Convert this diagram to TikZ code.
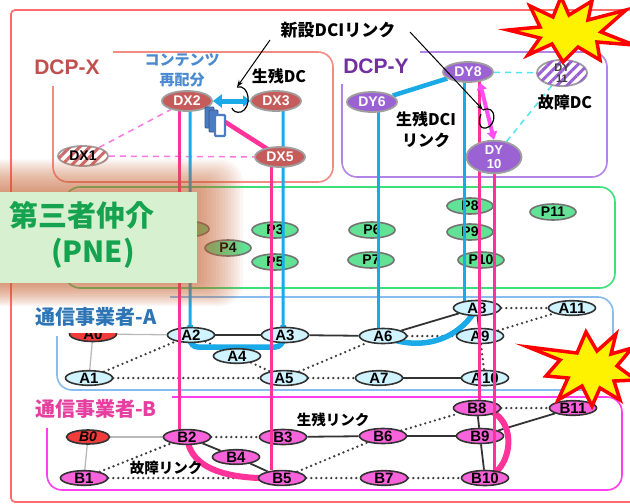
\documentclass[tikz,border=0pt]{standalone}
\usepackage{fontspec}
\usetikzlibrary{shapes.geometric,arrows.meta,patterns.meta,calc}
\newfontfamily\lsans{Liberation Sans}
\newfontfamily\jp{Noto Sans CJK JP}
\newcommand\fsz[1]{\fontsize{#1}{#1}\selectfont}
\newcommand\fszb[2]{\fontsize{#1}{#2}\selectfont}

\definecolor{outerred}{HTML}{FF6B6B}
\definecolor{dcpx}{HTML}{F28C82}
\definecolor{dcpxtext}{HTML}{C0504D}
\definecolor{dcpy}{HTML}{B383E6}
\definecolor{dcpytext}{HTML}{7030A0}
\definecolor{pnegreen}{HTML}{3EE07A}
\definecolor{carA}{HTML}{86BCEE}
\definecolor{carAtext}{HTML}{2E75B6}
\definecolor{carB}{HTML}{FF3FEF}
\definecolor{carBtext}{HTML}{E53FA0}
\definecolor{dxfill}{HTML}{C65B5B}
\definecolor{dyfill}{HTML}{9B62D3}
\definecolor{pfill}{HTML}{62E295}
\definecolor{afill}{HTML}{CFF3FF}
\definecolor{bfill}{HTML}{F862DB}
\definecolor{redfill}{HTML}{F23C3C}
\definecolor{linkblue}{HTML}{1AAAE8}
\definecolor{linkpink}{HTML}{FF3399}
\definecolor{arrowpink}{HTML}{FF4DF5}
\definecolor{dashpink}{HTML}{FF77E0}
\definecolor{dashcyan}{HTML}{4DE6F2}
\definecolor{contentblue}{HTML}{4A7CC4}
\definecolor{labelblue}{HTML}{4A8AD0}
\definecolor{glow}{HTML}{C8602E}
\definecolor{pnebox}{HTML}{D6F0D0}
\definecolor{pnetext}{HTML}{16A34F}

\pgfdeclarelayer{bg}
\pgfdeclarelayer{links}
\pgfdeclarelayer{nodesab}
\pgfdeclarelayer{pink}
\pgfdeclarelayer{over}
\pgfsetlayers{bg,links,nodesab,pink,main,over}

\tikzset{
  dxnode/.style={ellipse, fill=dxfill, draw=gray!75, line width=1.8pt,
    minimum width=50pt, minimum height=20pt, inner sep=0pt, text=white,
    font=\lsans\bfseries\fsz{14}},
  dynode/.style={dxnode, fill=dyfill},
  pnode/.style={ellipse, fill=pfill, draw=black!55, line width=1.6pt,
    minimum width=46pt, minimum height=16pt, inner sep=0pt,
    font=\lsans\bfseries\fsz{14}},
  anode/.style={ellipse, fill=afill, draw=black!80, line width=1.6pt,
    minimum width=47pt, minimum height=14pt, inner sep=0pt,
    font=\lsans\bfseries\fsz{15}},
  bnode/.style={anode, fill=bfill},
  hatchx/.style={postaction={pattern={Lines[angle=45,distance=7pt,line width=3pt]},
    pattern color=#1}},
  solidedge/.style={draw=black!80, line width=1.8pt},
  dotedge/.style={draw=black!75, line width=2.6pt, dash pattern=on 0pt off 5pt, line cap=round},
  grayedge/.style={draw=gray!55, line width=1.3pt},
  region/.style={line width=1.6pt, rounded corners=15pt},
  blueln/.style={draw=linkblue, line width=3pt},
  pinkln/.style={draw=linkpink, line width=3pt},
  jplabel/.style={font=\jp\bfseries\fsz{#1}, inner sep=0pt},
  boom/.style={draw=red, fill=yellow, line width=3.5pt, line join=miter}
}

\begin{document}
\begin{tikzpicture}[x=1pt,y=-1pt]
\useasboundingbox (0,0) rectangle (630,504);

% ---------------- regions ----------------
\begin{pgfonlayer}{bg}
  \fill[white] (0,0) rectangle (630,504);
  \draw[outerred, line width=1.6pt, rounded corners=4pt] (11,10) -- (645,10) -- (645,502) -- (11,502) -- cycle;
  \draw[dcpx, region] (113,52) -- (333,52) -- (333,182) -- (53,182) -- (53,86);
  \draw[dcpy, region] (420,52) -- (607,52) -- (607,177) -- (342,177) -- (342,84);
  \draw[pnegreen, region] (65,187) rectangle (615,288);
  \draw[carA, region] (170,297) -- (613,297) -- (613,390) -- (57,390) -- (57,336);
  \draw[carB, region] (172,397) -- (622,397) -- (622,490) -- (47,490) -- (47,428);

  % PNE nodes
  \node[pnode] (P2) at (186,229) {};
  \node[pnode] (P3) at (275,230) {P3};
  \node[pnode] (P4) at (228,248) {P4};
  \node[pnode] (P5) at (275,262) {P5};
  \node[pnode] (P6) at (372,230) {P6};
  \node[pnode] (P7) at (371,260) {P7};
  \node[pnode] (P8) at (470,206) {P8};
  \node[pnode] (P9) at (470,232) {P9};
  \node[pnode] (P10) at (481,260) {P10};
  \node[pnode] (P11) at (553,212) {P11};
\end{pgfonlayer}

% ---------------- data centres ----------------
\node[dxnode] (DX2) at (187,101) {DX2};
\node[dxnode] (DX3) at (276,101) {DX3};
\node[dxnode, fill=white, text=black, hatchx=dxfill!90] (DX1) at (83,156) {DX1};
\node[dxnode] (DX5) at (280,157) {DX5};

\node[dynode] (DY8) at (468,72) {DY8};
\node[dynode] (DY6) at (372,102) {DY6};
\node[dynode, minimum width=55pt, minimum height=30pt, align=center,
      font=\lsans\bfseries\fszb{13}{14}] (DY10) at (494,157) {DY\\10};
\node[dynode, fill=white, text=black!75, hatchx=dyfill, align=center,
      font=\lsans\bfseries\fszb{11}{11}] (DY11) at (562,73) {DY\\11};

% ---------------- carrier nodes ----------------
\begin{pgfonlayer}{nodesab}
  \begin{scope}
    \clip (55,333) rectangle (135,345);
    \node[anode, fill=redfill] (A0) at (93,334) {A0};
  \end{scope}
  \node[anode] (A1) at (89,378) {A1};
  \node[anode] (A2) at (191,335) {A2};
  \node[anode] (A3) at (285,335) {A3};
  \node[anode] (A4) at (237,356) {A4};
  \node[anode] (A5) at (284,378) {A5};
  \node[anode] (A6) at (383,336) {A6};
  \node[anode] (A7) at (379,378) {A7};
  \node[anode] (A8) at (477,308) {A8};
  \node[anode] (A9) at (480,336) {A9};
  \node[anode] (A10) at (485,378) {A10};
  \node[anode] (A11) at (572,308) {A11};

  \node[bnode, fill=redfill, minimum width=43pt, minimum height=11pt,
        font=\lsans\bfseries\itshape\fsz{14}] (B0) at (88,437) {B0};
  \node[bnode] (B1) at (84,478) {B1};
  \node[bnode] (B2) at (187,437) {B2};
  \node[bnode] (B3) at (283,437) {B3};
  \node[bnode] (B4) at (236,457) {B4};
  \node[bnode] (B5) at (282,478) {B5};
  \node[bnode] (B6) at (383,436) {B6};
  \node[bnode] (B7) at (384,478) {B7};
  \node[bnode] (B8) at (477,408) {B8};
  \node[bnode] (B9) at (480,436) {B9};
  \node[bnode] (B10) at (485,478) {B10};
  \node[bnode] (B11) at (573,408) {B11};
\end{pgfonlayer}

% ---------------- carrier links ----------------
\begin{pgfonlayer}{bg}
  \draw[grayedge] (A0) -- (A1);
  \draw[grayedge] (A0) -- (A2);
  \draw[dotedge] (A1) -- (A2);
  \draw[dotedge] (A1) -- (A5);
  \draw[solidedge] (A2) -- (A3);
  \draw[dotedge] (A2) -- (A4);
  \draw[dotedge] (A4) -- (A5);
  \draw[solidedge] (A3) -- (A6);
  \draw[dotedge] (A5) -- (A6);
  \draw[dotedge] (A5) -- (A7);
  \draw[solidedge] (A6) -- (A8);
  \draw[dotedge] (A6) -- (A9);
  \draw[solidedge] (A7) -- (A10);
  \draw[solidedge, line width=2.4pt] (A8) -- (A9);
  \draw[dotedge] (A9) -- (A10);
  \draw[dotedge] (A8) -- (A11);
  \draw[dotedge] (A9) -- (A11);

  \draw[grayedge] (B0) -- (B1);
  \draw[grayedge] (B0) -- (B2);
  \draw[dotedge] (B1) -- (B2);
  \draw[dotedge] (B1) -- (B5);
  \draw[dotedge] (B2) -- (B3);
  \draw[solidedge] (B2) -- (B4);
  \draw[solidedge] (B4) -- (B5);
  \draw[solidedge] (B3) -- (B6);
  \draw[dotedge] (B5) -- (B6);
  \draw[dotedge] (B5) -- (B7);
  \draw[dotedge] (B6) -- (B8);
  \draw[solidedge] (B6) -- (B9);
  \draw[dotedge] (B7) -- (B10);
  \draw[solidedge] (B8) -- (B9);
  \draw[solidedge] (B9) -- (B10);
  \draw[dotedge] (B8) -- (B11);
  \draw[solidedge] (B9) -- (B11);

  % DC interconnects lost with the failed sites
  \draw[dashpink, line width=1.5pt, dash pattern=on 6pt off 5pt] (DX1) -- (DX2);
  \draw[dashpink, line width=1.5pt, dash pattern=on 6pt off 5pt] (DX1) -- (DX5);
  \draw[dashcyan, line width=1.5pt, dash pattern=on 6pt off 5pt] (DY8) -- (DY11);
  \draw[dashcyan, line width=1.5pt, dash pattern=on 6pt off 5pt] (DY10) -- (DY11);
\end{pgfonlayer}

% ---------------- blue paths ----------------
\coordinate (ubl) at (190,347);
\coordinate (ubr) at (283,347);
\begin{pgfonlayer}{links}
  \draw[blueln, rounded corners=8pt] ([xshift=3pt]DX2.center) -- (ubl) -- (ubr) -- ([xshift=7pt]DX3.center);
  \draw[linkblue, line width=5.5pt, rounded corners=8pt] ([yshift=22pt]ubl) -- (ubl) -- (ubr) -- ([yshift=22pt]ubr);
  \draw[blueln] ([xshift=6pt]DY6.center) -- ([xshift=6pt]DY6.center |- A6.center);
  \draw[blueln] ([xshift=-4pt]DY8.center) -- ([xshift=-4pt]DY8.center |- A8.center);
  \draw[linkblue, line width=4.5pt] (DY6) -- (DY8);
  \draw[linkblue, line width=5.5pt] (A8.center) .. controls (455,345) and (415,350) .. (A6.center);
  \draw[linkpink, line width=6pt] (B2.center) .. controls (190,470) and (230,480) .. (B5.center);
  \draw[linkpink, line width=6pt] (B8.center) .. controls (520,410) and (515,470) .. (B10.center);
\end{pgfonlayer}

% ---------------- content icon ----------------
\node[minimum width=20pt, minimum height=30pt] (docs) at (215,122) {};
\draw[fill=contentblue, draw=contentblue!70!black, line width=0.8pt, rounded corners=1pt] (205,107) rectangle (214,128);
\draw[fill=contentblue, draw=contentblue!70!black, line width=0.8pt, rounded corners=1pt] (209,110) rectangle (218,132);
\draw[fill=white, draw=contentblue, line width=2.2pt, rounded corners=1pt] (215,115) rectangle (225,136);

% ---------------- pink paths ----------------
\begin{pgfonlayer}{pink}
  \draw[pinkln] ([xshift=-8pt]DX2.center) -- ([xshift=-8pt]DX2.center |- B2.north);
  \draw[pinkln] ([xshift=-9pt]DX5.center) -- ([xshift=-9pt]DX5.center |- B5.north);
  \draw[pinkln] ([xshift=11pt]DY8.center) -- ([xshift=11pt]DY8.center |- B8.north);
  \draw[pinkln] (DY10.center) -- (DY10.center |- B10.north);
  \draw[linkpink, line width=4.5pt] (docs.east) -- (DX5.center);
\end{pgfonlayer}

% ---------------- DCI arrows ----------------
\draw[linkblue, line width=5pt, {Triangle[width=13pt,length=9pt]}-{Triangle[width=11pt,length=7pt]}]
  (DX2.east) -- (DX3.west);
\draw[arrowpink, line width=4pt, {Triangle[width=10pt,length=7pt]}-{Triangle[width=10pt,length=8pt]}]
  ([xshift=12pt]DY8.south) -- (DY10.north);

% ---------------- annotations ----------------
\node[jplabel=17] (newdci) at (338,30) {新設DCIリンク};
\coordinate (n1) at (270,40);
\coordinate (n2) at (410,32);
\coordinate (t1) at (237,87);
\coordinate (t2) at (483,110);
\draw[black, line width=1pt, -{Stealth[length=7pt,width=5pt]}] (n1) -- (t1);
\draw[black, line width=1pt, -{Stealth[length=7pt,width=5pt]}] (n2) -- (t2);
\draw[black, line width=1.2pt] (t1) .. controls (250,84) and (252,108) .. (241,112) .. controls (236,113) and (233,111) .. (232,108);
\draw[black, line width=1.2pt] (t2) .. controls (497,104) and (497,126) .. (486,128) .. controls (478,129) and (478,120) .. (481,114);

\node[jplabel=16] (survdc) at (279,76) {生残DC};
\node[jplabel=16] (faildc) at (565,102) {故障DC};
\node[jplabel=16, align=center, font=\jp\bfseries\fszb{16}{21}] (survdci) at (426,130) {生残DCI\\リンク};
\node[jplabel=15, text=labelblue, align=center, font=\jp\bfseries\fszb{15}{20}] (redist) at (182,70) {コンテンツ\\再配分};
\node[jplabel=14.5] (survlink) at (333,420) {生残リンク};
\node[jplabel=14.5] (faillink) at (166,468) {故障リンク};

\node[font=\lsans\bfseries\fsz{21}, text=dcpxtext] (lblx) at (67,67) {DCP-X};
\node[font=\lsans\bfseries\fsz{21}, text=dcpytext] (lbly) at (376,66) {DCP-Y};
\node[jplabel=20, text=carAtext] (lbla) at (96,317) {通信事業者-A};
\node[jplabel=20, text=carBtext] (lblb) at (96,409) {通信事業者-B};

% ---------------- PNE label with glow ----------------
\begin{pgfonlayer}{over}
  \foreach \i in {1,...,16}{
    \fill[glow, opacity=0.055, rounded corners={4pt+1.2pt*\i}]
      (-30,{193-2.1*\i}) rectangle ({195+3.0*\i},{282+1.5*\i});
  }
  \node[fill=pnebox, minimum width=197pt, minimum height=91pt, inner sep=0pt] (pne) at (98.5,237.5) {};
  \node[jplabel=29, text=pnetext] (pne1) at (82,215) {第三者仲介};
  \node[jplabel=29, text=pnetext] (pne2) at (93,253) {(PNE)};

  % failure bursts
  \draw[boom] (508,30) -- (540,27) -- (530,6) -- (553,17) -- (561,-3) -- (569,15) -- (592,1) -- (588,20)
    -- (626,10) -- (601,32) -- (634,45) -- (597,42) -- (600,60) -- (578,47) -- (563,62) -- (552,44)
    -- (528,55) -- (540,38) -- cycle;
  \draw[boom] (528,347) -- (560,360) -- (546,376) -- (568,378) -- (558,400) -- (582,386) -- (592,406)
    -- (600,388) -- (620,400) -- (614,381) -- (636,380) -- (617,366) -- (632,348) -- (611,354)
    -- (616,334) -- (597,351) -- (586,332) -- (577,353) -- cycle;
\end{pgfonlayer}
\end{tikzpicture}
\end{document}
